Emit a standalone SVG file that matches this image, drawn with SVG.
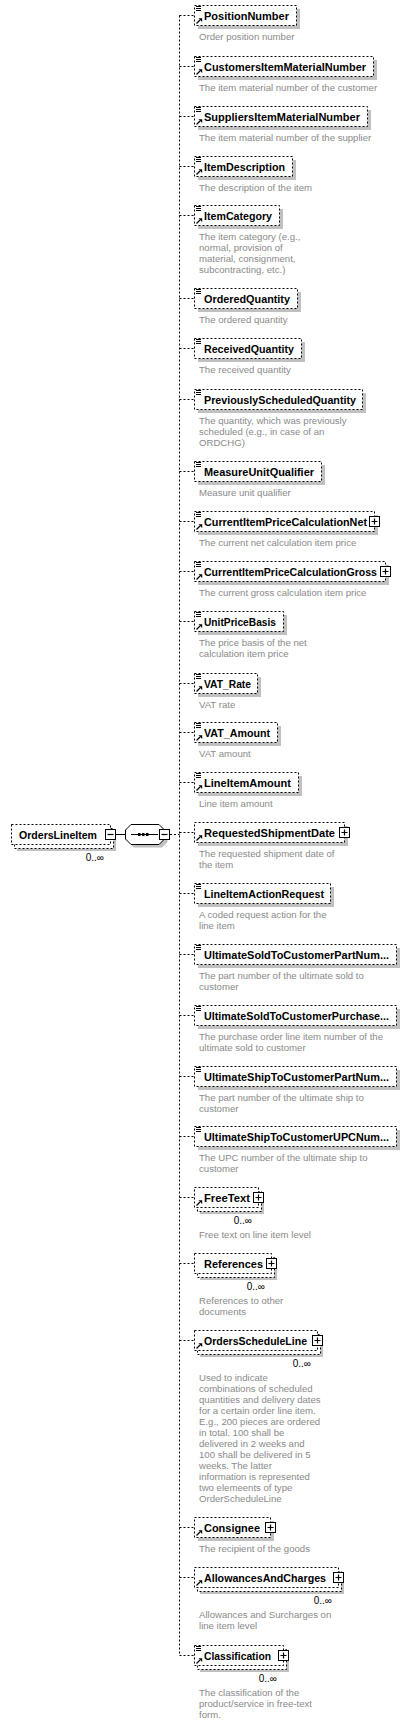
<svg xmlns="http://www.w3.org/2000/svg" width="410" height="1725" viewBox="0 0 410 1725">
<style>
.b{fill:#fff;stroke:#000;stroke-width:1;stroke-dasharray:2,2}
.s{fill:#c0c0c0}
.n{font-family:"Liberation Sans",Arial,sans-serif;font-weight:bold;font-size:11px;fill:#000}
.d{font-family:"Liberation Sans",Arial,sans-serif;font-size:9.6px;fill:#8a8a8a}
.o{font-family:"Liberation Sans",Arial,sans-serif;font-size:10px;fill:#000;text-anchor:end}
.c{fill:none;stroke:#000;stroke-width:1;stroke-dasharray:2,2}
.k{fill:none;stroke:#000;stroke-width:1}
</style>
<defs>
<g id="doc"><path d="M2 1.5h5M2 3.5h5M2 5.5h5" stroke="#000" stroke-width="1"/></g>
<g id="arr"><path d="M2.5 18.5L6 15" stroke="#000" stroke-width="1.3"/><path d="M4.5 13.3H8.2V17Z" fill="#000"/></g>
<g id="plus"><rect x="0.5" y="0.5" width="10" height="10" fill="#fff" stroke="#000"/><path d="M2.5 5.5h6M5.5 2.5v6" stroke="#000" stroke-width="1.2"/></g>
<g id="minus"><rect x="0.5" y="0.5" width="10" height="10" fill="#fff" stroke="#000"/><path d="M2.5 5.5h6" stroke="#000" stroke-width="1.2"/></g>
</defs>

<g id="connectors">
<path class="k" d="M116 834.5H125.5"/>
<path class="c" d="M170 834.5H179.5"/>
<path class="c" d="M179.5 15.5V1655.5"/>
<path class="c" d="M179.5 15.5H194M179.5 66.5H194M179.5 116.5H194M179.5 166.5H194M179.5 215.5H194M179.5 298.5H194M179.5 348.5H194M179.5 399.5H194M179.5 471.5H194M179.5 521.5H194M179.5 571.5H194M179.5 621.5H194M179.5 683.5H194M179.5 732.5H194M179.5 782.5H194M179.5 832.5H194M179.5 893.5H194M179.5 954.5H194M179.5 1015.5H194M179.5 1076.5H194M179.5 1136.5H194M179.5 1197.5H194M179.5 1263.5H194M179.5 1340.5H194M179.5 1527.5H194M179.5 1577.5H194M179.5 1655.5H194"/>
</g>

<g id="OrdersLineItem">
<rect class="s" x="17" y="831" width="99" height="20"/>
<rect class="b" x="14.5" y="828.5" width="99" height="20"/>
<rect class="b" x="11.5" y="824.5" width="99" height="20"/>
<text class="n" x="19" y="838.5" textLength="78" lengthAdjust="spacingAndGlyphs">OrdersLineItem</text>
<use href="#minus" x="105" y="829"/>
<text class="o" x="104" y="860.5">0..∞</text>
</g>

<g id="sequence">
<polygon class="s" points="128.5,833 134,827.5 162,827.5 167.5,833 167.5,842 162,847.5 134,847.5 128.5,842"/>
<polygon fill="#fff" stroke="#000" points="125.5,830 131,824.5 159,824.5 164.5,830 164.5,839 159,844.5 131,844.5 125.5,839"/>
<path d="M131 834.5H158" stroke="#000"/>
<rect x="138" y="833" width="2.5" height="3" fill="#000"/>
<rect x="142" y="833" width="2.5" height="3" fill="#000"/>
<rect x="146" y="833" width="2.5" height="3" fill="#000"/>
<use href="#minus" x="159" y="829"/>
</g>

<g id="PositionNumber">
<rect class="s" x="198" y="9" width="102" height="20"/>
<rect class="b" x="194.5" y="5.5" width="102" height="20"/>
<use href="#doc" x="194" y="5"/><use href="#arr" x="194" y="5"/>
<text class="n" x="204" y="19.5" textLength="85" lengthAdjust="spacingAndGlyphs">PositionNumber</text>
<text class="d" x="199" y="39.5">Order position number</text>
</g>

<g id="CustomersItemMaterialNumber">
<rect class="s" x="198" y="60" width="179" height="20"/>
<rect class="b" x="194.5" y="56.5" width="179" height="20"/>
<use href="#doc" x="194" y="56"/><use href="#arr" x="194" y="56"/>
<text class="n" x="204" y="70.5" textLength="162" lengthAdjust="spacingAndGlyphs">CustomersItemMaterialNumber</text>
<text class="d" x="199" y="90.5">The item material number of the customer</text>
</g>

<g id="SuppliersItemMaterialNumber">
<rect class="s" x="198" y="110" width="173" height="20"/>
<rect class="b" x="194.5" y="106.5" width="173" height="20"/>
<use href="#doc" x="194" y="106"/><use href="#arr" x="194" y="106"/>
<text class="n" x="204" y="120.5" textLength="156" lengthAdjust="spacingAndGlyphs">SuppliersItemMaterialNumber</text>
<text class="d" x="199" y="140.5">The item material number of the supplier</text>
</g>

<g id="ItemDescription">
<rect class="s" x="198" y="160" width="98" height="20"/>
<rect class="b" x="194.5" y="156.5" width="98" height="20"/>
<use href="#doc" x="194" y="156"/><use href="#arr" x="194" y="156"/>
<text class="n" x="204" y="170.5" textLength="81" lengthAdjust="spacingAndGlyphs">ItemDescription</text>
<text class="d" x="199" y="190.5">The description of the item</text>
</g>

<g id="ItemCategory">
<rect class="s" x="198" y="209" width="85" height="20"/>
<rect class="b" x="194.5" y="205.5" width="85" height="20"/>
<use href="#doc" x="194" y="205"/><use href="#arr" x="194" y="205"/>
<text class="n" x="204" y="219.5" textLength="68" lengthAdjust="spacingAndGlyphs">ItemCategory</text>
<text class="d" x="199" y="239.5">The item category (e.g.,<tspan x="199" dy="11">normal, provision of</tspan><tspan x="199" dy="11">material, consignment,</tspan><tspan x="199" dy="11">subcontracting, etc.)</tspan></text>
</g>

<g id="OrderedQuantity">
<rect class="s" x="198" y="292" width="103" height="20"/>
<rect class="b" x="194.5" y="288.5" width="103" height="20"/>
<use href="#doc" x="194" y="288"/>
<text class="n" x="204" y="302.5" textLength="86" lengthAdjust="spacingAndGlyphs">OrderedQuantity</text>
<text class="d" x="199" y="322.5">The ordered quantity</text>
</g>

<g id="ReceivedQuantity">
<rect class="s" x="198" y="342" width="107" height="20"/>
<rect class="b" x="194.5" y="338.5" width="107" height="20"/>
<use href="#doc" x="194" y="338"/>
<text class="n" x="204" y="352.5" textLength="90" lengthAdjust="spacingAndGlyphs">ReceivedQuantity</text>
<text class="d" x="199" y="372.5">The received quantity</text>
</g>

<g id="PreviouslyScheduledQuantity">
<rect class="s" x="198" y="393" width="168" height="20"/>
<rect class="b" x="194.5" y="389.5" width="168" height="20"/>
<use href="#doc" x="194" y="389"/>
<text class="n" x="204" y="403.5" textLength="152" lengthAdjust="spacingAndGlyphs">PreviouslyScheduledQuantity</text>
<text class="d" x="199" y="423.5">The quantity, which was previously<tspan x="199" dy="11">scheduled (e.g., in case of an</tspan><tspan x="199" dy="11">ORDCHG)</tspan></text>
</g>

<g id="MeasureUnitQualifier">
<rect class="s" x="198" y="465" width="127" height="20"/>
<rect class="b" x="194.5" y="461.5" width="127" height="20"/>
<use href="#doc" x="194" y="461"/>
<text class="n" x="204" y="475.5" textLength="110" lengthAdjust="spacingAndGlyphs">MeasureUnitQualifier</text>
<text class="d" x="199" y="495.5">Measure unit qualifier</text>
</g>

<g id="CurrentItemPriceCalculationNet">
<rect class="s" x="198" y="515" width="180" height="20"/>
<rect class="b" x="194.5" y="511.5" width="180" height="20"/>
<use href="#doc" x="194" y="511"/><use href="#arr" x="194" y="511"/>
<text class="n" x="204" y="525.5" textLength="163" lengthAdjust="spacingAndGlyphs">CurrentItemPriceCalculationNet</text>
<use href="#plus" x="369" y="516"/>
<text class="d" x="199" y="545.5">The current net calculation item price</text>
</g>

<g id="CurrentItemPriceCalculationGross">
<rect class="s" x="198" y="565" width="191" height="20"/>
<rect class="b" x="194.5" y="561.5" width="191" height="20"/>
<use href="#doc" x="194" y="561"/><use href="#arr" x="194" y="561"/>
<text class="n" x="204" y="575.5" textLength="173" lengthAdjust="spacingAndGlyphs">CurrentItemPriceCalculationGross</text>
<use href="#plus" x="380" y="566"/>
<text class="d" x="199" y="595.5">The current gross calculation item price</text>
</g>

<g id="UnitPriceBasis">
<rect class="s" x="198" y="615" width="89" height="20"/>
<rect class="b" x="194.5" y="611.5" width="89" height="20"/>
<use href="#doc" x="194" y="611"/><use href="#arr" x="194" y="611"/>
<text class="n" x="204" y="625.5" textLength="72" lengthAdjust="spacingAndGlyphs">UnitPriceBasis</text>
<text class="d" x="199" y="645.5">The price basis of the net<tspan x="199" dy="11">calculation item price</tspan></text>
</g>

<g id="VAT_Rate">
<rect class="s" x="198" y="677" width="63" height="20"/>
<rect class="b" x="194.5" y="673.5" width="63" height="20"/>
<use href="#doc" x="194" y="673"/><use href="#arr" x="194" y="673"/>
<text class="n" x="204" y="687.5" textLength="47" lengthAdjust="spacingAndGlyphs">VAT_Rate</text>
<text class="d" x="199" y="707.5">VAT rate</text>
</g>

<g id="VAT_Amount">
<rect class="s" x="198" y="726" width="83" height="20"/>
<rect class="b" x="194.5" y="722.5" width="83" height="20"/>
<use href="#doc" x="194" y="722"/><use href="#arr" x="194" y="722"/>
<text class="n" x="204" y="736.5" textLength="66" lengthAdjust="spacingAndGlyphs">VAT_Amount</text>
<text class="d" x="199" y="756.5">VAT amount</text>
</g>

<g id="LineItemAmount">
<rect class="s" x="198" y="776" width="104" height="20"/>
<rect class="b" x="194.5" y="772.5" width="104" height="20"/>
<use href="#doc" x="194" y="772"/><use href="#arr" x="194" y="772"/>
<text class="n" x="204" y="786.5" textLength="87" lengthAdjust="spacingAndGlyphs">LineItemAmount</text>
<text class="d" x="199" y="806.5">Line item amount</text>
</g>

<g id="RequestedShipmentDate">
<rect class="s" x="198" y="826" width="150" height="20"/>
<rect class="b" x="194.5" y="822.5" width="150" height="20"/>
<use href="#arr" x="194" y="822"/>
<text class="n" x="204" y="836.5" textLength="131" lengthAdjust="spacingAndGlyphs">RequestedShipmentDate</text>
<use href="#plus" x="339" y="827"/>
<text class="d" x="199" y="856.5">The requested shipment date of<tspan x="199" dy="11">the item</tspan></text>
</g>

<g id="LineItemActionRequest">
<rect class="s" x="198" y="887" width="136" height="20"/>
<rect class="b" x="194.5" y="883.5" width="136" height="20"/>
<use href="#doc" x="194" y="883"/>
<text class="n" x="204" y="897.5" textLength="120" lengthAdjust="spacingAndGlyphs">LineItemActionRequest</text>
<text class="d" x="199" y="917.5">A coded request action for the<tspan x="199" dy="11">line item</tspan></text>
</g>

<g id="UltimateSoldToCustomerPartNumber">
<rect class="s" x="198" y="948" width="202" height="20"/>
<rect class="b" x="194.5" y="944.5" width="202" height="20"/>
<use href="#doc" x="194" y="944"/>
<text class="n" x="204" y="958.5" textLength="185" lengthAdjust="spacingAndGlyphs">UltimateSoldToCustomerPartNum...</text>
<text class="d" x="199" y="978.5">The part number of the ultimate sold to<tspan x="199" dy="11">customer</tspan></text>
</g>

<g id="UltimateSoldToCustomerPurchase">
<rect class="s" x="198" y="1009" width="202" height="20"/>
<rect class="b" x="194.5" y="1005.5" width="202" height="20"/>
<use href="#doc" x="194" y="1005"/>
<text class="n" x="204" y="1019.5" textLength="185" lengthAdjust="spacingAndGlyphs">UltimateSoldToCustomerPurchase...</text>
<text class="d" x="199" y="1039.5">The purchase order line item number of the<tspan x="199" dy="11">ultimate sold to customer</tspan></text>
</g>

<g id="UltimateShipToCustomerPartNumber">
<rect class="s" x="198" y="1070" width="202" height="20"/>
<rect class="b" x="194.5" y="1066.5" width="202" height="20"/>
<use href="#doc" x="194" y="1066"/>
<text class="n" x="204" y="1080.5" textLength="185" lengthAdjust="spacingAndGlyphs">UltimateShipToCustomerPartNum...</text>
<text class="d" x="199" y="1100.5">The part number of the ultimate ship to<tspan x="199" dy="11">customer</tspan></text>
</g>

<g id="UltimateShipToCustomerUPCNumber">
<rect class="s" x="198" y="1130" width="202" height="20"/>
<rect class="b" x="194.5" y="1126.5" width="202" height="20"/>
<use href="#doc" x="194" y="1126"/>
<text class="n" x="204" y="1140.5" textLength="185" lengthAdjust="spacingAndGlyphs">UltimateShipToCustomerUPCNum...</text>
<text class="d" x="199" y="1160.5">The UPC number of the ultimate ship to<tspan x="199" dy="11">customer</tspan></text>
</g>

<g id="FreeText">
<rect class="s" x="200" y="1194" width="64" height="20"/>
<rect class="b" x="197.5" y="1191.5" width="64" height="20"/>
<rect class="b" x="194.5" y="1187.5" width="64" height="20"/>
<use href="#arr" x="194" y="1187"/>
<text class="n" x="204" y="1201.5" textLength="46" lengthAdjust="spacingAndGlyphs">FreeText</text>
<use href="#plus" x="253" y="1192"/>
<text class="o" x="252" y="1223.5">0..∞</text>
<text class="d" x="199" y="1237.5">Free text on line item level</text>
</g>

<g id="References">
<rect class="s" x="200" y="1260" width="77" height="20"/>
<rect class="b" x="197.5" y="1257.5" width="77" height="20"/>
<rect class="b" x="194.5" y="1253.5" width="77" height="20"/>
<text class="n" x="204" y="1267.5" textLength="59" lengthAdjust="spacingAndGlyphs">References</text>
<use href="#plus" x="266" y="1258"/>
<text class="o" x="265" y="1289.5">0..∞</text>
<text class="d" x="199" y="1303.5">References to other<tspan x="199" dy="11">documents</tspan></text>
</g>

<g id="OrdersScheduleLine">
<rect class="s" x="200" y="1337" width="123" height="20"/>
<rect class="b" x="197.5" y="1334.5" width="123" height="20"/>
<rect class="b" x="194.5" y="1330.5" width="123" height="20"/>
<use href="#arr" x="194" y="1330"/>
<text class="n" x="204" y="1344.5" textLength="103" lengthAdjust="spacingAndGlyphs">OrdersScheduleLine</text>
<use href="#plus" x="312" y="1335"/>
<text class="o" x="311" y="1366.5">0..∞</text>
<text class="d" x="199" y="1380.5">Used to indicate<tspan x="199" dy="11">combinations of scheduled</tspan><tspan x="199" dy="11">quantities and delivery dates</tspan><tspan x="199" dy="11">for a certain order line item.</tspan><tspan x="199" dy="11">E.g., 200 pieces are ordered</tspan><tspan x="199" dy="11">in total. 100 shall be</tspan><tspan x="199" dy="11">delivered in 2 weeks and</tspan><tspan x="199" dy="11">100 shall be delivered in 5</tspan><tspan x="199" dy="11">weeks. The latter</tspan><tspan x="199" dy="11">information is represented</tspan><tspan x="199" dy="11">two elemeents of type</tspan><tspan x="199" dy="11">OrderScheduleLine</tspan></text>
</g>

<g id="Consignee">
<rect class="s" x="198" y="1521" width="76" height="20"/>
<rect class="b" x="194.5" y="1517.5" width="76" height="20"/>
<use href="#arr" x="194" y="1517"/>
<text class="n" x="204" y="1531.5" textLength="56" lengthAdjust="spacingAndGlyphs">Consignee</text>
<use href="#plus" x="265" y="1522"/>
<text class="d" x="199" y="1551.5">The recipient of the goods</text>
</g>

<g id="AllowancesAndCharges">
<rect class="s" x="200" y="1574" width="144" height="20"/>
<rect class="b" x="197.5" y="1571.5" width="144" height="20"/>
<rect class="b" x="194.5" y="1567.5" width="144" height="20"/>
<use href="#arr" x="194" y="1567"/>
<text class="n" x="204" y="1581.5" textLength="122" lengthAdjust="spacingAndGlyphs">AllowancesAndCharges</text>
<use href="#plus" x="333" y="1572"/>
<text class="o" x="332" y="1603.5">0..∞</text>
<text class="d" x="199" y="1617.5">Allowances and Surcharges on<tspan x="199" dy="11">line item level</tspan></text>
</g>

<g id="Classification">
<rect class="s" x="200" y="1652" width="89" height="20"/>
<rect class="b" x="197.5" y="1649.5" width="89" height="20"/>
<rect class="b" x="194.5" y="1645.5" width="89" height="20"/>
<use href="#doc" x="194" y="1645"/><use href="#arr" x="194" y="1645"/>
<text class="n" x="204" y="1659.5" textLength="67" lengthAdjust="spacingAndGlyphs">Classification</text>
<use href="#plus" x="278" y="1650"/>
<text class="o" x="277" y="1681.5">0..∞</text>
<text class="d" x="199" y="1695.5">The classification of the<tspan x="199" dy="11">product/service in free-text</tspan><tspan x="199" dy="11">form.</tspan></text>
</g>
</svg>
